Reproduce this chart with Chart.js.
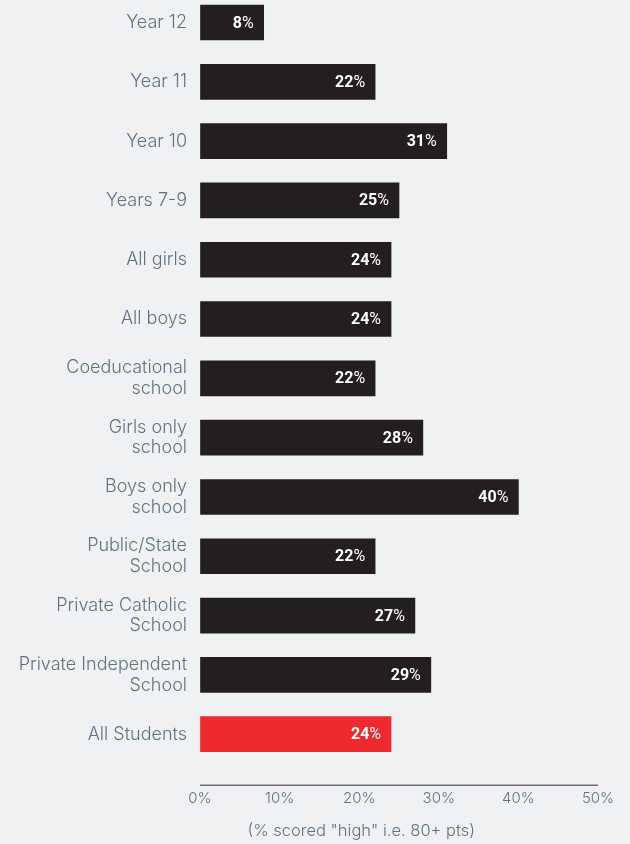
<!DOCTYPE html>
<html>
<head>
<meta charset="utf-8">
<script src="https://cdn.jsdelivr.net/npm/chart.js@4.4.1/dist/chart.umd.min.js"></script>
<style>
  html, body { margin: 0; padding: 0; background: #f0f1f3; }
  #wrap { position: relative; width: 630px; height: 844px; }
</style>
</head>
<body>
<div id="wrap"><canvas id="grafico" width="630" height="844"></canvas></div>
<script>
// categorias e valores (% com pontuação "high")
const categorias = [
  'Year 12', 'Year 11', 'Year 10', 'Years 7-9', 'All girls', 'All boys',
  ['Coeducational', 'school'], ['Girls only', 'school'], ['Boys only', 'school'],
  ['Public/State', 'School'], ['Private Catholic', 'School'],
  ['Private Independent', 'School'], 'All Students'
];
const valores = [8, 22, 31, 25, 24, 24, 22, 28, 40, 22, 27, 29, 24];
const ticksX = [0, 10, 20, 30, 40, 50];
const tituloX = '(% scored "high" i.e. 80+ pts)';

const corBarra = '#231f20';
const corTotal = '#ee2a2e';
const corTexto = '#5e7380';
const fonte = 'Inter, "Noto Sans", sans-serif';
const fonteValor = '"Liberation Sans Narrow", "Roboto", sans-serif';

// linha do eixo e título desenhados um pouco abaixo da área do gráfico
const eixoPlugin = {
  id: 'eixo',
  afterDraw(chart) {
    const { ctx, chartArea } = chart;
    const y = chartArea.bottom + 51;
    ctx.save();
    ctx.strokeStyle = '#6d7176';
    ctx.lineWidth = 1.5;
    ctx.beginPath();
    ctx.moveTo(chartArea.left, y);
    ctx.lineTo(chartArea.right, y);
    ctx.stroke();
    ctx.fillStyle = corTexto;
    ctx.font = '300 16.5px ' + fonte;
    ctx.textAlign = 'center';
    ctx.textBaseline = 'middle';
    ctx.fillText(tituloX, chartArea.left + (chartArea.right - chartArea.left) * 0.405, y + 46);
    ctx.restore();
  }
};

// rótulos de valor dentro da barra: número em negrito, "%" normal
const rotulosPlugin = {
  id: 'rotulos',
  afterDatasetsDraw(chart) {
    const { ctx } = chart;
    const meta = chart.getDatasetMeta(0);
    ctx.save();
    ctx.fillStyle = '#ffffff';
    ctx.textBaseline = 'middle';
    ctx.textAlign = 'left';
    meta.data.forEach((barra, i) => {
      const num = String(valores[i]);
      ctx.font = 'bold 16px ' + fonteValor;
      const wNum = ctx.measureText(num).width;
      ctx.font = '16px ' + fonteValor;
      const wPct = ctx.measureText('%').width;
      const x0 = barra.x - 10 - wPct - wNum;
      ctx.font = 'bold 16px ' + fonteValor;
      ctx.fillText(num, x0, barra.y + 1);
      ctx.font = '16px ' + fonteValor;
      ctx.fillText('%', x0 + wNum, barra.y + 1);
    });
    ctx.restore();
  }
};

const ctx = document.getElementById('grafico').getContext('2d');

new Chart(ctx, {
  type: 'bar',
  data: {
    labels: categorias,
    datasets: [{
      data: valores,
      backgroundColor: valores.map((v, i) => i === valores.length - 1 ? corTotal : corBarra),
      barThickness: 35,
      clip: false
    }]
  },
  options: {
    indexAxis: 'y',
    responsive: false,
    animation: false,
    layout: { padding: { top: 22.5, right: 32, left: 0, bottom: 0 } },
    plugins: { legend: { display: false }, tooltip: { enabled: false } },
    scales: {
      x: {
        min: 0,
        max: 50,
        afterBuildTicks(scale) { scale.ticks = ticksX.map(v => ({ value: v })); },
        afterFit(scale) { scale.height = 109.8; },
        // marcas invisíveis só para empurrar os rótulos para baixo
        grid: { display: true, drawOnChartArea: false, drawTicks: true, tickLength: 55, color: 'transparent' },
        border: { display: false },
        ticks: {
          padding: 0,
          color: corTexto,
          font: { family: fonte, size: 15, weight: 300 },
          callback: v => v + '%'
        }
      },
      y: {
        offset: false,
        afterFit(scale) { scale.width = 200; },
        grid: { display: false },
        border: { display: false },
        ticks: {
          padding: 5,
          color: corTexto,
          font: { family: fonte, size: 18, weight: 300, lineHeight: 1.15 }
        }
      }
    }
  },
  plugins: [eixoPlugin, rotulosPlugin]
});
</script>
</body>
</html>
